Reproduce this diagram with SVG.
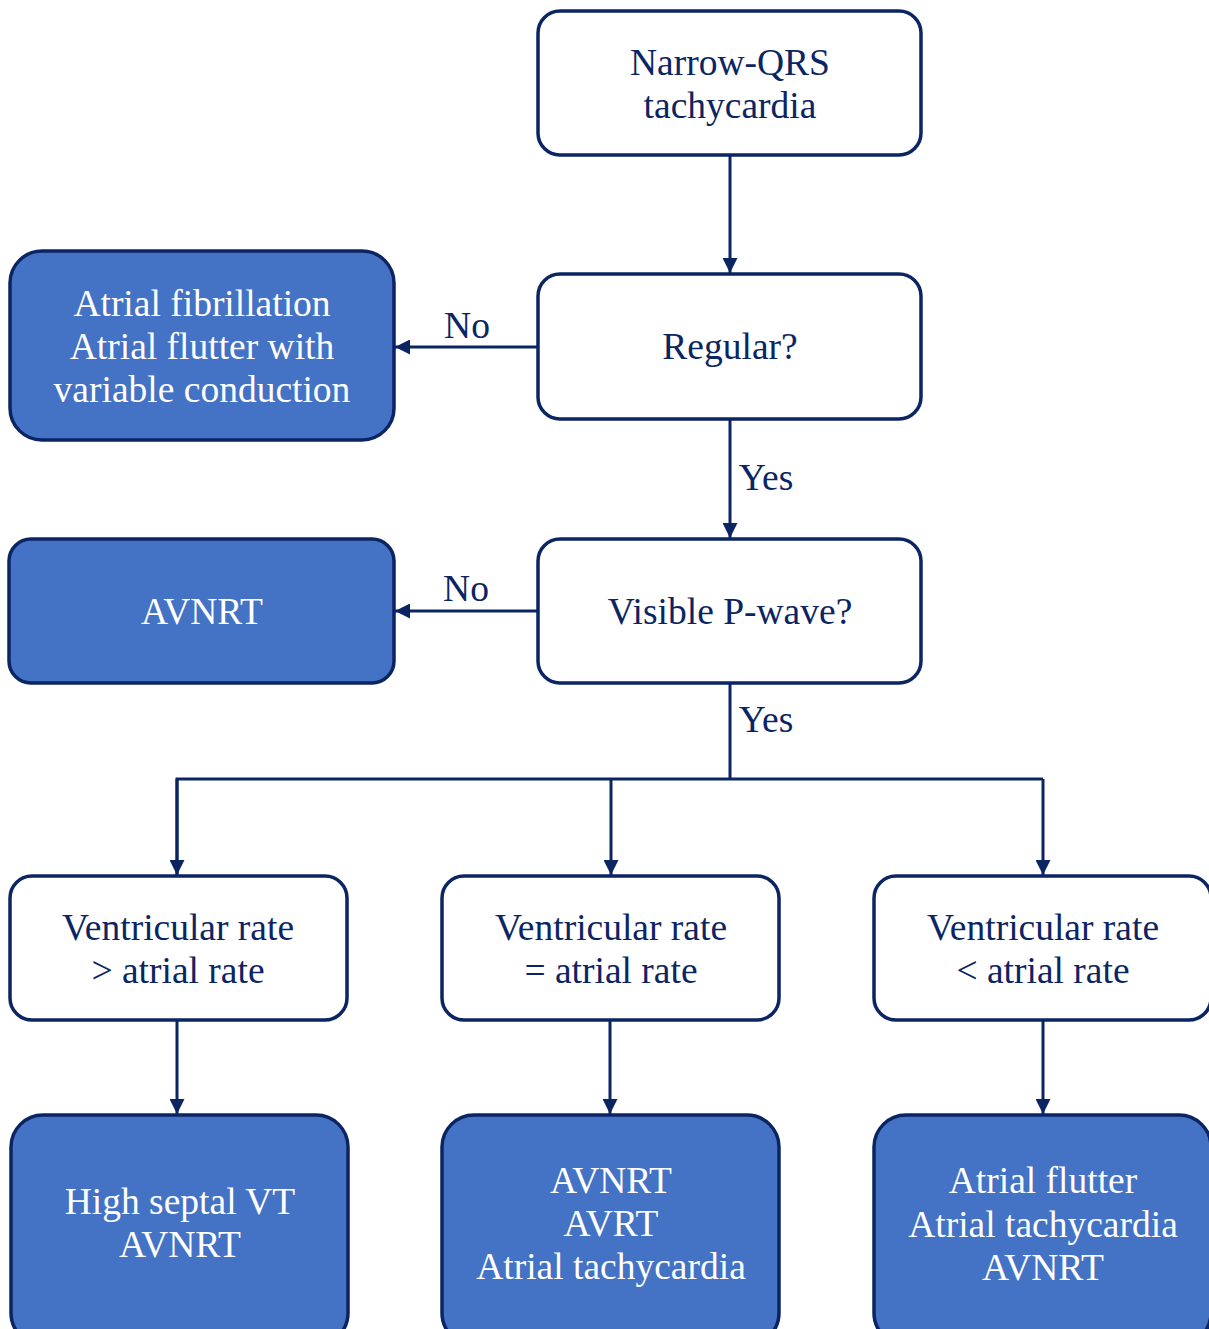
<svg xmlns="http://www.w3.org/2000/svg" width="1209" height="1329" viewBox="0 0 1209 1329">
<style>
.n rect{stroke:#0B2562;stroke-width:3.5}
.w rect{fill:#fff}
.b rect{fill:#4472C4}
text{font-family:"Liberation Serif","Times New Roman",serif;font-size:37.5px;text-anchor:middle}
.w text,.lbl{fill:#0B2562}
.b text{fill:#fff}
.c line,.c polyline{stroke:#0B2562;stroke-width:3;fill:none}
</style>
<defs>
<marker id="ah" viewBox="0 0 10 10" refX="10" refY="5" markerWidth="5" markerHeight="5" orient="auto" markerUnits="strokeWidth">
<path d="M0,0 L10,5 L0,10 Z" fill="#0B2562"/>
</marker>
</defs>
<g class="c">
<line x1="730" y1="155" x2="730" y2="273" marker-end="url(#ah)"/>
<line x1="538" y1="347" x2="395" y2="347" marker-end="url(#ah)"/>
<line x1="730" y1="419" x2="730" y2="538" marker-end="url(#ah)"/>
<line x1="538" y1="611" x2="395" y2="611" marker-end="url(#ah)"/>
<line x1="730" y1="683" x2="730" y2="779"/>
<polyline points="177,875 177,779 1043,779"/>
<line x1="611" y1="779" x2="611" y2="875" marker-end="url(#ah)"/>
<line x1="177" y1="779" x2="177" y2="875" marker-end="url(#ah)"/>
<line x1="1043" y1="779" x2="1043" y2="875" marker-end="url(#ah)"/>
<line x1="177" y1="1020" x2="177" y2="1114" marker-end="url(#ah)"/>
<line x1="610" y1="1020" x2="610" y2="1114" marker-end="url(#ah)"/>
<line x1="1043" y1="1020" x2="1043" y2="1114" marker-end="url(#ah)"/>
<text class="lbl" x="467" y="338">No</text>
<text class="lbl" x="766" y="490">Yes</text>
<text class="lbl" x="466" y="601">No</text>
<text class="lbl" x="766" y="732">Yes</text>
</g>
<g id="start" class="n w"><rect x="538" y="11" width="383" height="144" rx="22"/><text x="730" y="75">Narrow-QRS</text><text x="730" y="118">tachycardia</text></g>
<g id="regular" class="n w"><rect x="538" y="274" width="383" height="145" rx="22"/><text x="730" y="359">Regular?</text></g>
<g id="af" class="n b"><rect x="10" y="251" width="384" height="189" rx="32"/><text x="202" y="316">Atrial fibrillation</text><text x="202" y="359">Atrial flutter with</text><text x="202" y="402">variable conduction</text></g>
<g id="pwave" class="n w"><rect x="538" y="539" width="383" height="144" rx="22"/><text x="730" y="624">Visible P-wave?</text></g>
<g id="avnrt1" class="n b"><rect x="9" y="539" width="385" height="144" rx="22"/><text x="202" y="624">AVNRT</text></g>
<g id="vgt" class="n w"><rect x="10" y="876" width="337" height="144" rx="22"/><text x="178" y="940">Ventricular rate</text><text x="178" y="983">&gt; atrial rate</text></g>
<g id="veq" class="n w"><rect x="442" y="876" width="337" height="144" rx="22"/><text x="611" y="940">Ventricular rate</text><text x="611" y="983">= atrial rate</text></g>
<g id="vlt" class="n w"><rect x="874" y="876" width="337" height="144" rx="22"/><text x="1043" y="940">Ventricular rate</text><text x="1043" y="983">&lt; atrial rate</text></g>
<g id="r1" class="n b"><rect x="11" y="1115" width="337" height="230" rx="32"/><text x="180" y="1214">High septal VT</text><text x="180" y="1257">AVNRT</text></g>
<g id="r2" class="n b"><rect x="442" y="1115" width="337" height="230" rx="32"/><text x="611" y="1193">AVNRT</text><text x="611" y="1236">AVRT</text><text x="611" y="1279">Atrial tachycardia</text></g>
<g id="r3" class="n b"><rect x="874" y="1115" width="337" height="230" rx="32"/><text x="1043" y="1193">Atrial flutter</text><text x="1043" y="1237">Atrial tachycardia</text><text x="1043" y="1280">AVNRT</text></g>
</svg>
